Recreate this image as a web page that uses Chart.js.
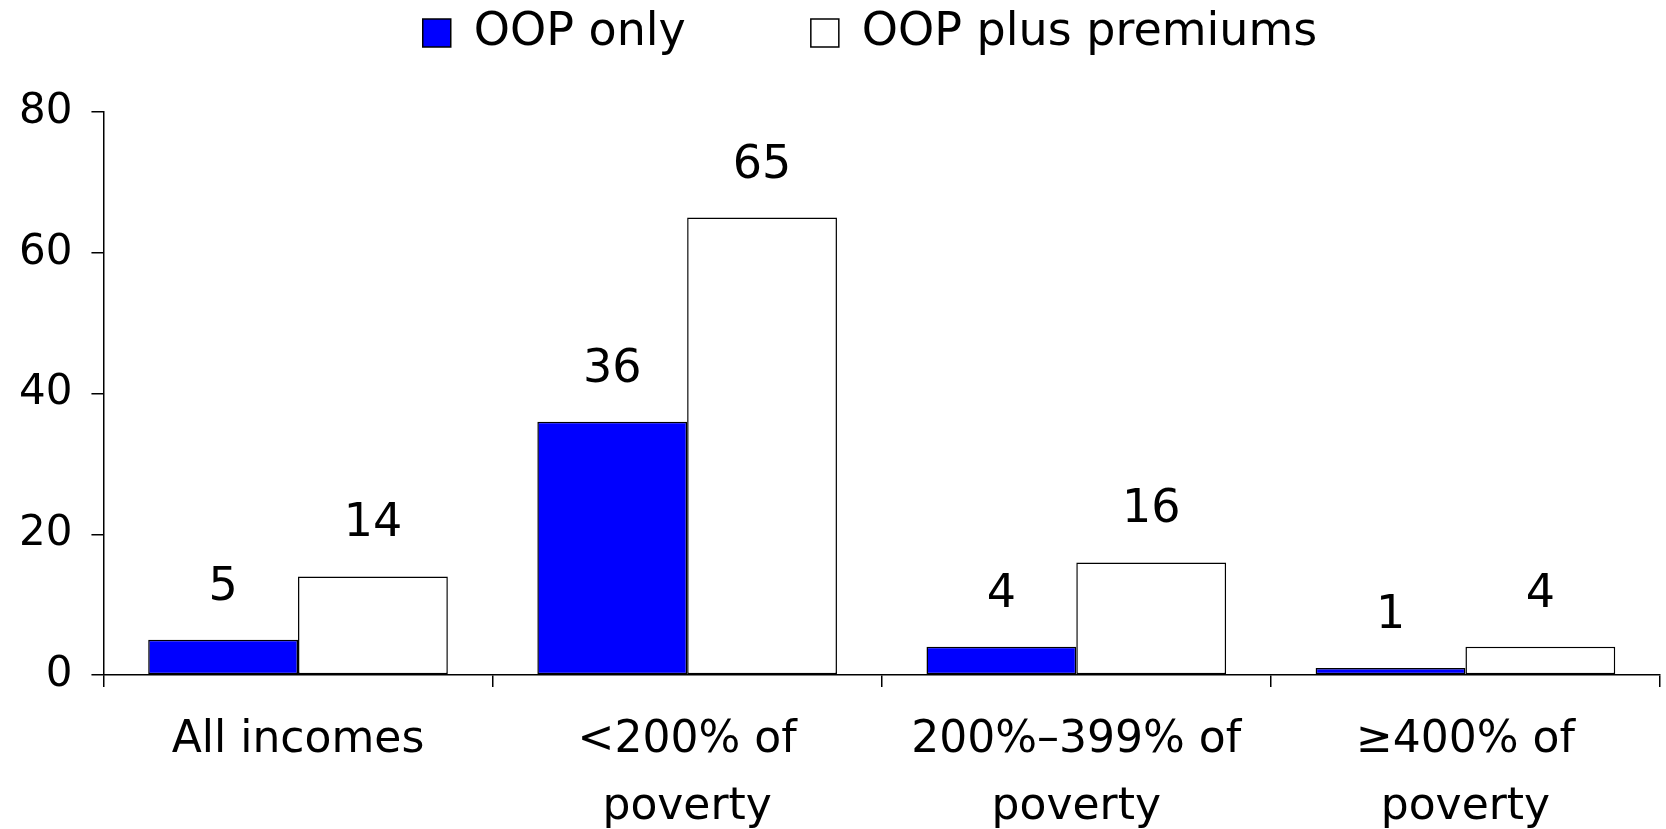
<!DOCTYPE html>
<html>
<head>
<meta charset="utf-8">
<script src="https://cdn.jsdelivr.net/npm/chart.js@4.4.1/dist/chart.umd.min.js"></script>
<style>
  html, body { margin: 0; padding: 0; background: #fff; }
  #wrap { width: 1666px; height: 829px; }
</style>
</head>
<body>
<div id="wrap"><canvas id="oopChart" width="1666" height="829"></canvas></div>
<script>
var incomeGroups = [
    ['All incomes'],
    ['<200% of', 'poverty'],
    ['200%\u2013399% of', 'poverty'],
    ['\u2265400% of', 'poverty']
];
var oopOnly = [5, 36, 4, 1];
var oopPlusPremiums = [14, 65, 16, 4];
var yTicks = [0, 20, 40, 60, 80];

var ctx = document.getElementById('oopChart');

// value labels floating above each bar
var barValues = {
    id: 'barValues',
    afterDatasetsDraw: function (chart) {
        var c = chart.ctx;
        c.save();
        c.font = '46px "DejaVu Sans"';
        c.fillStyle = '#000';
        c.textAlign = 'center';
        c.textBaseline = 'middle';
        chart.data.datasets.forEach(function (ds, i) {
            chart.getDatasetMeta(i).data.forEach(function (bar, j) {
                c.fillText(ds.data[j], bar.x, bar.y - 52);
            });
        });
        c.restore();
    }
};

// extra room under the legend, and nudge it right over the plot
var legendGap = {
    id: 'legendGap',
    beforeInit: function (chart) {
        var fit = chart.legend.fit;
        chart.legend.fit = function () {
            fit.bind(chart.legend)();
            this.height += 46;
        };
    },
    afterLayout: function (chart) {
        chart.legend.left += 80;
    }
};

Chart.defaults.font.family = '"DejaVu Sans"';
Chart.defaults.color = '#000';

var myChart = new Chart(ctx, {
    type: 'bar',
    data: {
        labels: incomeGroups,
        datasets: [{
            label: 'OOP only',
            data: oopOnly,
            backgroundColor: '#0000ff',
            borderColor: '#000',
            borderWidth: 1.5,
            borderSkipped: false
        }, {
            label: 'OOP plus premiums',
            data: oopPlusPremiums,
            backgroundColor: '#ffffff',
            borderColor: '#000',
            borderWidth: 1.5,
            borderSkipped: false
        }]
    },
    options: {
        responsive: false,
        animation: false,
        layout: {
            padding: { left: 0, right: 6, top: 0, bottom: -32 }
        },
        datasets: {
            bar: { categoryPercentage: 0.77, barPercentage: 1.0 }
        },
        plugins: {
            legend: {
                position: 'top',
                labels: {
                    boxWidth: 28,
                    boxHeight: 28,
                    padding: 10,
                    font: { size: 46 },
                    generateLabels: function (chart) {
                        var items = Chart.defaults.plugins.legend.labels.generateLabels(chart);
                        items[0].text = items[0].text + '\u2003\u2003\u2002';
                        return items;
                    }
                }
            },
            tooltip: { enabled: false }
        },
        scales: {
            x: {
                grid: {
                    drawOnChartArea: false,
                    drawTicks: true,
                    tickLength: 12,
                    color: '#000',
                    lineWidth: 1.5
                },
                border: { color: '#000', width: 1.5 },
                ticks: {
                    padding: 20,
                    maxRotation: 0,
                    autoSkip: false,
                    font: { size: 44, lineHeight: '67px' }
                }
            },
            y: {
                min: 0,
                max: 80,
                afterBuildTicks: function (scale) {
                    scale.ticks = yTicks.map(function (v) { return { value: v }; });
                },
                grid: {
                    drawOnChartArea: false,
                    drawTicks: true,
                    tickLength: 12,
                    color: '#000',
                    lineWidth: 1.5
                },
                border: { color: '#000', width: 1.5 },
                ticks: {
                    padding: 19,
                    font: { size: 42 }
                }
            }
        }
    },
    plugins: [barValues, legendGap]
});
</script>
</body>
</html>
